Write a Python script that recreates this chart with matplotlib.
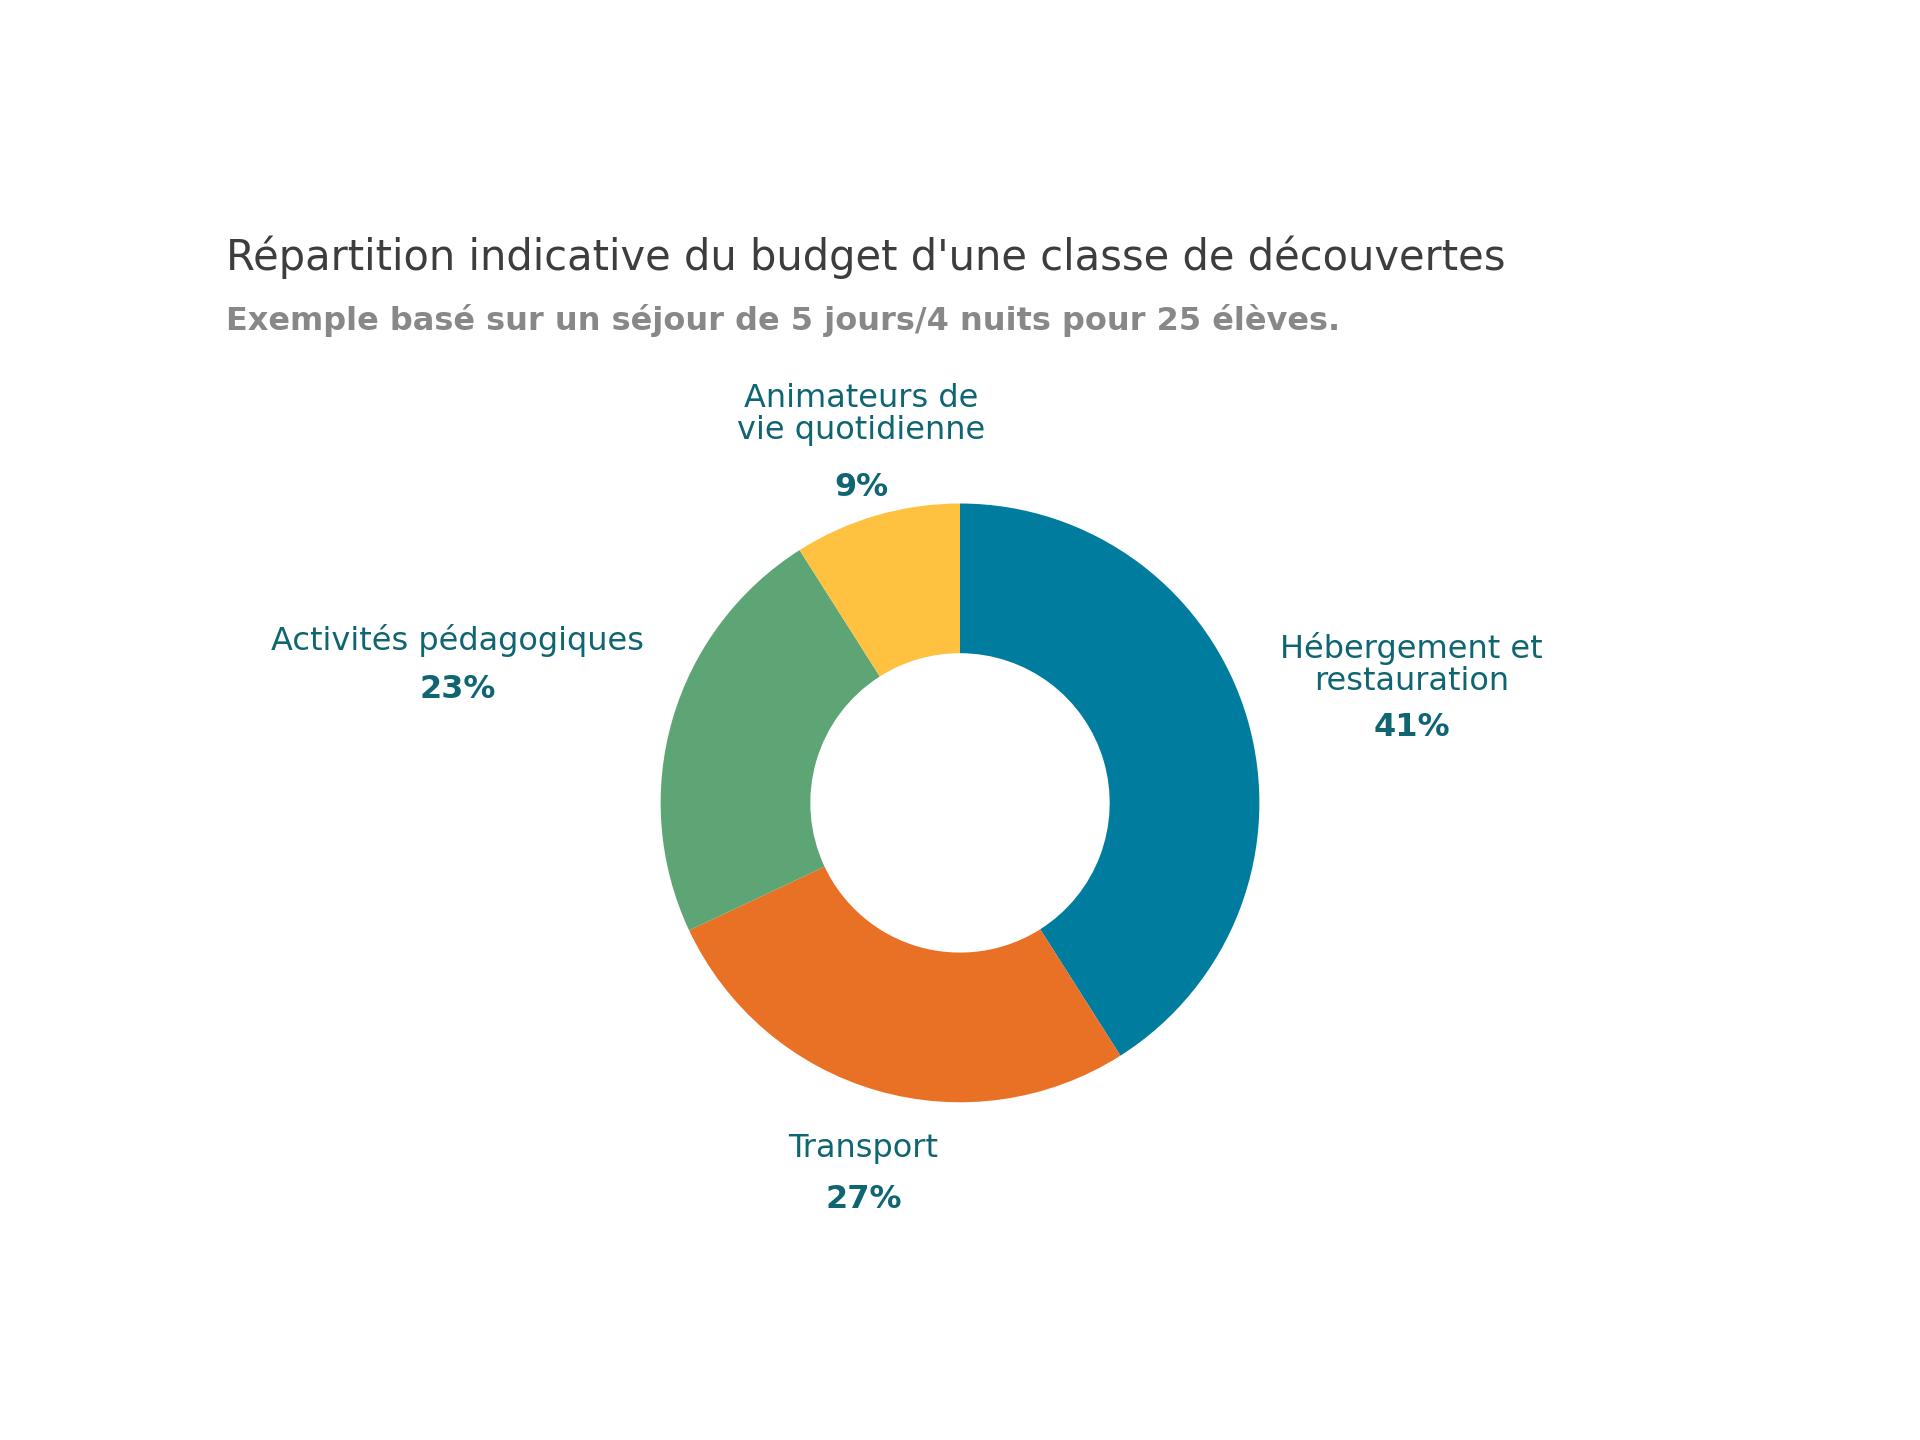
import matplotlib
matplotlib.use("Agg")
import matplotlib.pyplot as plt

categories = ["Hébergement et\nrestauration", "Transport", "Activités pédagogiques", "Animateurs de\nvie quotidienne"]
values = [41, 27, 23, 9]
colors = ["#007C9E", "#E97126", "#5DA574", "#FEC240"]

W, H = 1552, 1164
fig = plt.figure(figsize=(19.2, 14.4), dpi=100)
plt.rcParams['font.family'] = ['DejaVu Sans']

cx, cy, r = 776 / W, 1 - 649 / H, 242 / W
ax = fig.add_axes([cx - r, cy - r * W / H, 2 * r, 2 * r * W / H])
ax.pie(values, colors=colors, startangle=90, counterclock=False,
       wedgeprops=dict(width=0.5, linewidth=0))
ax.set_xlim(-1, 1); ax.set_ylim(-1, 1); ax.set_aspect('equal')
ax.axis('off')

fig.text(183 / W, 1 - 208 / H, "Répartition indicative du budget d'une classe de découvertes",
         fontsize=30, color="#3d3d3d", va="center", ha="left")
fig.text(183 / W, 1 - 259 / H, "Exemple basé sur un séjour de 5 jours/4 nuits pour 25 élèves.",
         fontsize=23, color="#888888", va="center", ha="left", fontweight="bold")

lab_col = "#0F6672"
pos = [(1141, 537, 588), (698, 928, 970), (370, 518, 557), (696, 335, 394)]
for cat, v, (x, yl, yp) in zip(categories, values, pos):
    fig.text(x / W, 1 - yl / H, cat, fontsize=23, color=lab_col, ha="center", va="center",
             linespacing=1.05)
    fig.text(x / W, 1 - yp / H, f"{v}%", fontsize=23, color=lab_col, ha="center", va="center",
             fontweight="bold")

fig.savefig("out.png", dpi=100, facecolor="white")
